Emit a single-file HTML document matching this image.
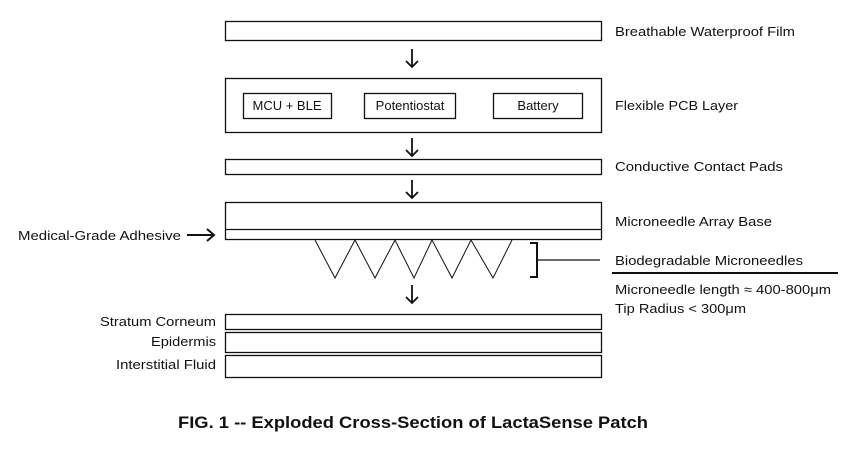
<!DOCTYPE html>
<html><head><meta charset="utf-8"><style>
html,body{margin:0;padding:0;background:#fff;}
svg{display:block;}
text{font-family:"Liberation Sans",sans-serif;font-size:13px;fill:#111;}
</style></head><body>
<svg width="860" height="449" viewBox="0 0 860 449" xmlns="http://www.w3.org/2000/svg">
<g fill="none" stroke="#111" stroke-width="1.3">
<rect x="225.5" y="21.5" width="376" height="19"/>
<rect x="225.5" y="78.5" width="376" height="54"/>
<rect x="243.5" y="93.5" width="88" height="25"/>
<rect x="364.5" y="93.5" width="91" height="25"/>
<rect x="493.5" y="93.5" width="89" height="25"/>
<rect x="225.5" y="159.5" width="376" height="15"/>
<rect x="225.5" y="202.5" width="376" height="37"/>
<line x1="225" y1="229.5" x2="601" y2="229.5"/>
<rect x="225.5" y="314.5" width="376" height="15"/>
<rect x="225.5" y="332.5" width="376" height="20"/>
<rect x="225.5" y="355.5" width="376" height="22"/>
<polyline stroke-width="1" points="315,240 335,278 355,240 375,278 395,240 414,278 432,240 452,278 471,240 493,278 512,240"/>
</g>
<g fill="none" stroke="#111" stroke-width="2">
<polyline points="530,243 537,243 537,277 530,277"/>
<line x1="537" y1="260" x2="600" y2="260" stroke-width="1.3"/>
<line x1="612" y1="273" x2="838" y2="273"/>
<line x1="187" y1="235" x2="214" y2="235"/>
<polyline points="207,229 214,235 207,241"/>
</g>
<g fill="none" stroke="#111" stroke-width="1.8">
<line x1="412" y1="49" x2="412" y2="67"/><polyline points="406,61 412,67 418,61"/>
<line x1="412" y1="138" x2="412" y2="156"/><polyline points="406,150 412,156 418,150"/>
<line x1="412" y1="180" x2="412" y2="198"/><polyline points="406,192 412,198 418,192"/>
<line x1="412" y1="285" x2="412" y2="303"/><polyline points="406,297 412,303 418,297"/>
</g>
<text x="287" y="110" text-anchor="middle">MCU + BLE</text>
<text x="410" y="110" text-anchor="middle">Potentiostat</text>
<text x="538" y="110" text-anchor="middle">Battery</text>
<text x="615" y="36" textLength="180" lengthAdjust="spacingAndGlyphs">Breathable Waterproof Film</text>
<text x="615" y="110" textLength="123" lengthAdjust="spacingAndGlyphs">Flexible PCB Layer</text>
<text x="615" y="171" textLength="168" lengthAdjust="spacingAndGlyphs">Conductive Contact Pads</text>
<text x="615" y="226" textLength="157" lengthAdjust="spacingAndGlyphs">Microneedle Array Base</text>
<text x="615" y="265" textLength="188" lengthAdjust="spacingAndGlyphs">Biodegradable Microneedles</text>
<text x="615" y="294" textLength="216" lengthAdjust="spacingAndGlyphs">Microneedle length ≈ 400-800μm</text>
<text x="615" y="313" textLength="131" lengthAdjust="spacingAndGlyphs">Tip Radius &lt; 300μm</text>
<text x="181" y="240" text-anchor="end" textLength="163" lengthAdjust="spacingAndGlyphs">Medical-Grade Adhesive</text>
<text x="216" y="326" text-anchor="end" textLength="116" lengthAdjust="spacingAndGlyphs">Stratum Corneum</text>
<text x="216" y="346" text-anchor="end" textLength="65" lengthAdjust="spacingAndGlyphs">Epidermis</text>
<text x="216" y="369" text-anchor="end" textLength="100" lengthAdjust="spacingAndGlyphs">Interstitial Fluid</text>
<text x="178" y="428" style="font-size:17px;font-weight:bold" textLength="470" lengthAdjust="spacingAndGlyphs">FIG. 1 -- Exploded Cross-Section of LactaSense Patch</text>
</svg>
</body></html>
